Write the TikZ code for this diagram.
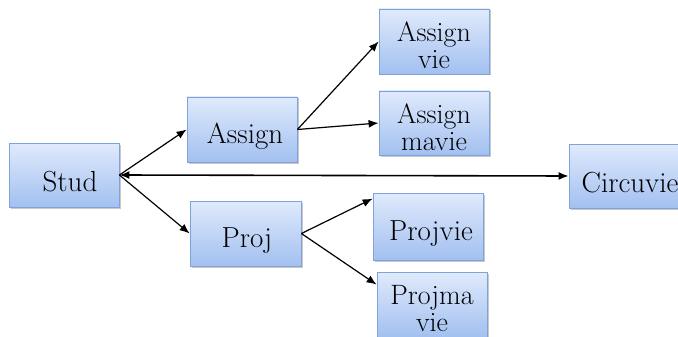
\documentclass[tikz,border=0pt]{standalone}
\usetikzlibrary{arrows.meta,shadows}
\definecolor{boxtop}{RGB}{224,234,252}
\definecolor{boxbot}{RGB}{162,192,240}
\definecolor{boxline}{RGB}{128,162,218}
\newcommand{\dnone}{\rule{0pt}{34pt}}
\newcommand{\dntwo}{\rule{0pt}{28pt}}
\tikzset{
  box/.style={draw=boxline, line width=0.8pt, top color=boxtop, bottom color=boxbot,
    minimum width=110pt, minimum height=65pt, inner sep=0pt, align=center,
    font=\fontsize{29}{27}\selectfont,
    drop shadow={shadow xshift=1.5pt, shadow yshift=-1.5pt, opacity=0.35, fill=black!60}},
  twoline/.style={font=\fontsize{28}{27}\selectfont},
  conn/.style={line width=1.2pt, black, -{Latex[length=10pt,width=8pt]}},
}
\begin{document}
\begin{tikzpicture}[x=1pt,y=-1pt]
\useasboundingbox (0,0) rectangle (678,337);
\clip (0,0) rectangle (678,337);
\fill[white] (0,0) rectangle (678,337);
\node[box, minimum height=64pt] (stud) at (64,175) {\dnone\hspace*{12pt}Stud};
\node[box] (assign) at (242,129.5) {\dnone\hspace*{6pt}Assign};
\node[box, minimum width=111pt] (proj) at (245.5,233.5) {\dnone\hspace*{3pt}Proj};
\node[box, twoline] (av) at (434,41.5) {\dntwo Assign\\vie};
\node[box, twoline, minimum height=64pt] (amv) at (434,123) {\dntwo Assign\\mavie};
\node[box, minimum height=67pt] (pv) at (428,226.5) {\dnone\hspace*{6pt}Projvie};
\node[box, twoline] (pmv) at (432,304.5) {\dntwo Projma\\vie};
\node[box, minimum height=64pt, minimum width=130pt] (circ) at (634,176) {\dnone Circuvie\hspace*{8pt}};
\draw[conn] (stud.east) -- (assign.west);
\draw[conn] (stud.east) -- (proj.west);
\draw[conn, line width=1.6pt, {Latex[length=10pt,width=8pt]}-{Latex[length=10pt,width=8pt]}] (stud.east) -- (circ.west);
\draw[conn] (assign.east) -- (av.west);
\draw[conn] (assign.east) -- (amv.west);
\draw[conn] (proj.east) -- ([yshift=-6pt]pv.north west);
\draw[conn] (proj.east) -- ([yshift=-13pt]pmv.north west);
\end{tikzpicture}
\end{document}
